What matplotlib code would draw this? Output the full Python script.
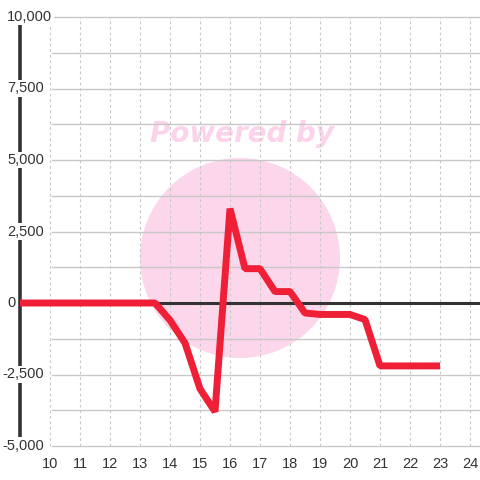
import matplotlib.pyplot as plt
import matplotlib.transforms as mtrans
from matplotlib.patches import Circle

plt.rcParams['font.family'] = ['Liberation Sans', 'DejaVu Sans']

x = [9, 9.5, 10, 10.5, 11, 11.5, 12, 12.5, 13, 13.5, 14, 14.5, 15, 15.5, 16,
     16.5, 17, 17.5, 18, 18.5, 19, 19.5, 20, 20.5, 21, 21.5, 22, 22.5, 23]
y = [0, 0, 0, 0, 0, 0, 0, 0, 0, 0, -600, -1400, -3000, -3800, 3300,
     1200, 1200, 400, 400, -350, -400, -400, -400, -580, -2200, -2200, -2200, -2200, -2200]
yticks = [-5000, -2500, 0, 2500, 5000, 7500, 10000]
ylabels = ['-5,000', '-2,500', '0', '2,500', '5,000', '7,500', '10,000']
xticks = list(range(10, 25))

fig = plt.figure(figsize=(4.8, 4.8), dpi=100)
ax = fig.add_axes([20/480, 1-446/480, 460/480, 429/480])
ax.set_xlim(9, 9 + 460/30)
ax.set_ylim(-5000, 10000)
for s in ax.spines.values():
    s.set_visible(False)

# watermark
ax.add_patch(Circle((240/480, 1-258/480), 100/480, transform=fig.transFigure,
                    facecolor='#fcd7eb', edgecolor='none', zorder=0.2, clip_on=False))
ax.text(242/480, 1-134/480, 'Powered by', transform=fig.transFigure, ha='center',
        va='center', fontsize=20, fontweight='bold', style='italic', color='#fcd3ea',
        family='DejaVu Sans', zorder=0.3)

# grid
for v in range(-5000, 10001, 1250):
    ax.plot([10.05, 24.4], [v, v], color='#c8c8c8', lw=1, zorder=1, clip_on=False)
for t in xticks:
    ax.plot([t, t], [-5000, 10000], color='#c8c8c8', lw=0.8, ls=(0, (2.5, 2.5)), zorder=1)

ax.plot([9, 9], [9750, -4700], color='#333333', lw=2.6, zorder=2, clip_on=False,
        solid_capstyle='butt')
ax.axhline(0, color='#333333', lw=2.2, zorder=3)
ax.plot(x, y, color='#ee1f36', lw=5, zorder=4, solid_joinstyle='bevel',
        solid_capstyle='butt')

ax.set_yticks([])
tr = mtrans.blended_transform_factory(fig.transFigure, ax.transData)
for v, lab in zip(yticks, ylabels):
    px = 2 if lab.startswith('-') else 7
    ax.text(px/480, v, lab, transform=tr, ha='left', va='center', fontsize=10.5,
            color='#333333', zorder=5, clip_on=False,
            bbox=dict(facecolor='white', edgecolor='none', pad=1))
ax.set_xticks(xticks)
ax.tick_params(length=0, labelsize=10.5, labelcolor='#333333')
ax.tick_params(axis='x', pad=8)

fig.patch.set_facecolor('white')
ax.set_facecolor('none')
fig.savefig('out.png', dpi=100)
